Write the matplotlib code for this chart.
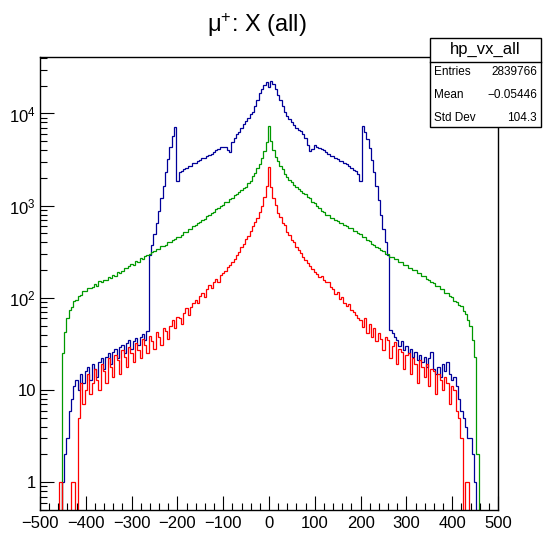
import numpy as np
import matplotlib
matplotlib.use('Agg')
import matplotlib.pyplot as plt
from matplotlib.patches import Rectangle
from matplotlib.ticker import MultipleLocator, LogLocator, NullFormatter

plt.rcParams['font.family'] = ['Liberation Sans', 'DejaVu Sans']
plt.rcParams['mathtext.fontset'] = 'custom'
plt.rcParams['mathtext.rm'] = 'Liberation Sans'
plt.rcParams['mathtext.it'] = 'Liberation Sans:italic'

# bin centres -460 ... 460, width 5
bin_centers = np.arange(-460, 461, 5)

# hp_vx_all (all mu+)
blue_counts = [
    0, 0, 1, 2, 3, 6, 8, 11, 13, 10,
    15, 12, 16, 18, 13, 19, 17, 14, 20, 22,
    17, 23, 25, 19, 26, 28, 22, 29, 31, 25,
    32, 35, 28, 34, 37, 31, 38, 41, 35, 44,
    290, 370, 490, 650, 870, 1200, 1620, 2300, 3230, 4300,
    5700, 7200, 1850, 2320, 2380, 2500, 2540, 2680, 2720, 2870,
    2930, 3080, 3120, 3280, 3330, 3480, 3520, 3680, 3780, 3980,
    4120, 4380, 4380, 4330, 4050, 3850, 4900, 5400, 5950, 6350,
    7000, 7600, 8200, 9000, 9800, 10500, 12000, 14000, 16500, 18500,
    20500, 22000, 19500, 22500, 21000, 18500, 16000, 14000, 12000, 10500,
    9500, 8700, 8000, 7500, 7000, 6700, 6400, 6000, 5400, 4500,
    3950, 4100, 4520, 4380, 4270, 4080, 3980, 3780, 3680, 3480,
    3420, 3280, 3230, 3080, 3020, 2880, 2830, 2680, 2570, 2440,
    2350, 2200, 1850, 7300, 6300, 5300, 4200, 3100, 2300, 1650,
    1150, 800, 560, 400, 290, 45, 42, 38, 35, 30,
    34, 27, 30, 25, 28, 23, 26, 21, 24, 20,
    23, 18, 22, 26, 17, 15, 18, 14, 19, 16,
    20, 15, 13, 14, 11, 8, 6, 5, 4, 3,
    3, 2, 1, 0, 0,
]

green_counts = [
    0, 0, 25, 43, 61, 73, 79, 93, 95, 106,
    108, 119, 118, 129, 127, 131, 142, 136, 152, 147,
    158, 156, 168, 165, 178, 174, 191, 186, 197, 210,
    209, 224, 232, 229, 250, 246, 268, 262, 287, 295,
    297, 318, 320, 339, 341, 362, 366, 377, 401, 400,
    428, 430, 458, 461, 478, 512, 519, 552, 562, 601,
    615, 655, 668, 708, 724, 771, 795, 840, 862, 915,
    940, 995, 1022, 1085, 1110, 1180, 1220, 1300, 1340, 1420,
    1470, 1570, 1610, 1750, 1860, 2110, 2280, 2570, 2830, 3320,
    3880, 4950, 7400, 5000, 4050, 3380, 3020, 2680, 2470, 2230,
    2070, 1880, 1790, 1690, 1610, 1510, 1460, 1370, 1330, 1250,
    1200, 1110, 1060, 985, 940, 870, 848, 800, 788, 742,
    732, 693, 682, 652, 650, 612, 605, 575, 570, 538,
    530, 500, 495, 462, 455, 424, 414, 385, 374, 352,
    348, 327, 324, 302, 298, 280, 278, 262, 263, 246,
    243, 228, 227, 213, 212, 199, 199, 186, 185, 172,
    172, 159, 157, 147, 146, 136, 135, 125, 124, 114,
    113, 104, 102, 93, 91, 83, 81, 72, 67, 57,
    49, 35, 23, 2, 0,
]

red_counts = [
    0, 1, 0, 0, 0, 0, 1, 1, 0, 5,
    12, 7, 10, 15, 9, 12, 17, 13, 10, 19,
    16, 12, 22, 18, 14, 24, 21, 15, 27, 23,
    18, 29, 25, 20, 32, 27, 22, 36, 31, 25,
    39, 34, 28, 43, 38, 31, 47, 44, 36, 50,
    57, 47, 62, 60, 52, 68, 77, 66, 80, 88,
    95, 87, 104, 112, 101, 125, 138, 128, 150, 160,
    150, 175, 185, 196, 214, 226, 248, 266, 294, 316,
    352, 386, 434, 466, 534, 596, 664, 736, 856, 995,
    1250, 1650, 2600, 1600, 1200, 1020, 830, 760, 650, 610,
    520, 480, 420, 400, 360, 330, 305, 280, 255, 240,
    220, 205, 190, 180, 168, 172, 155, 148, 150, 132,
    125, 110, 116, 98, 102, 88, 82, 86, 74, 70,
    66, 60, 58, 48, 60, 42, 52, 38, 47, 34,
    42, 36, 27, 38, 35, 22, 30, 33, 19, 28,
    26, 17, 24, 25, 15, 22, 19, 12, 21, 18,
    14, 19, 11, 17, 16, 9, 15, 13, 10, 14,
    12, 7, 11, 10, 6, 5, 3, 0, 1, 1,
    0, 0, 0, 0, 0,
]

y_ticks = [1, 10, 100, 1000, 10000]
y_tick_labels = ['1', '10', '$10^{2}$', '$10^{3}$', '$10^{4}$']

edges = np.append(bin_centers - 2.5, bin_centers[-1] + 2.5)

fig = plt.figure(figsize=(5.43, 5.34), dpi=100)
ax = fig.add_axes([40 / 543, 24 / 534, 458 / 543, 453 / 534])

ax.stairs(blue_counts, edges, color='#000099', linewidth=0.9, baseline=None)
ax.stairs(green_counts, edges, color='#009900', linewidth=0.9, baseline=None)
ax.stairs(red_counts, edges, color='#ff0000', linewidth=0.9, baseline=None)

ax.set_yscale('log')
ax.set_xlim(-500, 500)
ax.set_ylim(0.5, 4.1e4)

ax.xaxis.set_major_locator(MultipleLocator(100))
ax.xaxis.set_minor_locator(MultipleLocator(20))
ax.set_yticks(y_ticks, labels=y_tick_labels)
ax.yaxis.set_minor_locator(LogLocator(base=10, subs=np.arange(2, 10)))
ax.yaxis.set_minor_formatter(NullFormatter())

ax.tick_params(which='both', direction='in', top=False, right=False, labelsize=12)
ax.tick_params(which='major', length=10, width=0.8)
ax.tick_params(which='minor', length=5, width=0.8)
ax.tick_params(axis='x', pad=4)
ax.tick_params(axis='y', pad=3)
for s in ax.spines.values():
    s.set_linewidth(1.0)

fig.text(257 / 543, 1 - 32 / 534, r'μ$^{+}$: X (all)', ha='center', va='baseline', fontsize=17)

# stats box
x0, x1 = 430 / 543, 541 / 543
y_top, y_mid, y_bot = 1 - 38 / 534, 1 - 62 / 534, 1 - 127 / 534
fig.add_artist(Rectangle((x0, y_bot), x1 - x0, y_top - y_bot, transform=fig.transFigure,
                         facecolor='white', edgecolor='black', linewidth=1.0))
fig.add_artist(plt.Line2D([x0, x1], [y_mid, y_mid], transform=fig.transFigure,
                          color='black', linewidth=1.0))
fig.text((x0 + x1) / 2, 1 - 54 / 534, 'hp_vx_all', ha='center', va='baseline', fontsize=12)
rows = [('Entries', '2839766'), ('Mean', '\u22120.05446'), ('Std Dev', '104.3')]
for i, (name, val) in enumerate(rows):
    yb = 1 - (75 + 23 * i) / 534
    fig.text(434 / 543, yb, name, ha='left', va='baseline', fontsize=8.5)
    fig.text(537 / 543, yb, val, ha='right', va='baseline', fontsize=8.5)

fig.savefig('out.png', dpi=100)
